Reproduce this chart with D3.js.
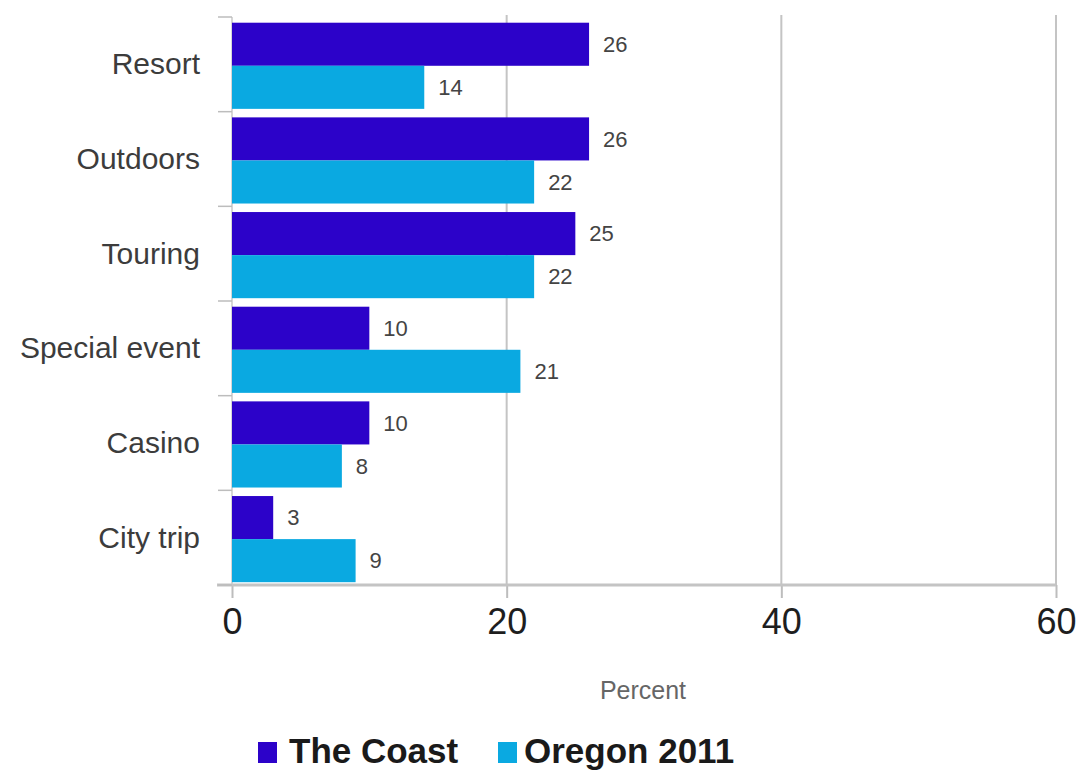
<!DOCTYPE html>
<html>
<head>
<meta charset="utf-8">
<script src="https://cdn.jsdelivr.net/npm/d3@7"></script>
<style>
  html, body { margin: 0; padding: 0; background: #fff; }
  svg { display: block; font-family: "Liberation Sans", Arial, sans-serif; }
</style>
</head>
<body>
<svg id="chart" width="1080" height="771"></svg>
<script>
// Trip types and the share of travellers (percent) for each series
const categories = ["Resort", "Outdoors", "Touring", "Special event", "Casino", "City trip"];
const seriesNames = ["The Coast", "Oregon 2011"];
const theCoast = [26, 26, 25, 10, 10, 3];
const oregon2011 = [14, 22, 22, 21, 8, 9];
const xTicks = [0, 20, 40, 60];
const xTitle = "Percent";

const colors = ["#2c02c9", "#0aa9e1"];
const seriesValues = [theCoast, oregon2011];

const rows = categories.map((c, i) => ({
  category: c,
  values: seriesNames.map((s, j) => ({ series: s, value: seriesValues[j][i] }))
}));

const svg = d3.select("#chart");

const plot = { left: 232, right: 1056, top: 17, bottom: 585 };

const x = d3.scaleLinear().domain([0, 60]).range([plot.left, plot.right]);
const y = d3.scaleBand()
  .domain(categories)
  .range([plot.top, plot.bottom])
  .paddingInner(0.09)
  .paddingOuter(0.045)
  .align(0.67);
const ySub = d3.scaleBand().domain(seriesNames).range([0, y.bandwidth()]);
const color = d3.scaleOrdinal().domain(seriesNames).range(colors);

// Vertical gridlines
svg.append("g")
  .selectAll("line")
  .data(xTicks.filter(t => t > 0))
  .join("line")
  .attr("x1", d => x(d)).attr("x2", d => x(d))
  .attr("y1", 15).attr("y2", plot.bottom)
  .attr("stroke", "#c4c4c4")
  .attr("stroke-width", 2);

// Bottom axis
const xAxis = svg.append("g")
  .attr("transform", `translate(0,${plot.bottom})`)
  .call(d3.axisBottom(x).tickValues(xTicks).tickSize(13).tickPadding(10).tickSizeOuter(0));
xAxis.select(".domain").remove();
xAxis.selectAll(".tick line").attr("stroke", "#bdbdbd").attr("stroke-width", 2);
xAxis.selectAll(".tick text")
  .attr("fill", "#1e1e1e")
  .attr("font-size", 36)
  .attr("font-family", "'Liberation Sans', Arial, sans-serif");
svg.append("line")
  .attr("x1", 217).attr("x2", plot.right)
  .attr("y1", plot.bottom).attr("y2", plot.bottom)
  .attr("stroke", "#c4c4c4")
  .attr("stroke-width", 3);

// Left axis with ticks at category boundaries
const yAxisG = svg.append("g");
yAxisG.append("line")
  .attr("x1", plot.left).attr("x2", plot.left)
  .attr("y1", plot.top).attr("y2", plot.bottom)
  .attr("stroke", "#c8c8c8").attr("stroke-width", 1.5);
const step = y.step();
const boundaries = d3.range(categories.length + 1).map(i => plot.top + i * step);
yAxisG.selectAll("line.bt")
  .data(boundaries)
  .join("line")
  .attr("class", "bt")
  .attr("x1", 218).attr("x2", plot.left)
  .attr("y1", d => d).attr("y2", d => d)
  .attr("stroke", "#bdbdbd").attr("stroke-width", 1.5);

// Category labels
svg.append("g")
  .selectAll("text")
  .data(categories)
  .join("text")
  .attr("x", 200)
  .attr("y", d => y(d) + y.bandwidth() / 2 - 2)
  .attr("dy", "0.35em")
  .attr("text-anchor", "end")
  .attr("font-size", 30)
  .attr("fill", "#3c3c3c")
  .text(d => d);

// Bars
const groups = svg.append("g")
  .selectAll("g")
  .data(rows)
  .join("g")
  .attr("transform", d => `translate(0,${y(d.category)})`);

groups.selectAll("rect")
  .data(d => d.values)
  .join("rect")
  .attr("x", x(0))
  .attr("y", d => ySub(d.series))
  .attr("width", d => x(d.value) - x(0))
  .attr("height", ySub.bandwidth())
  .attr("fill", d => color(d.series));

// Value labels
groups.selectAll("text")
  .data(d => d.values)
  .join("text")
  .attr("x", d => x(d.value) + 14)
  .attr("y", d => ySub(d.series) + ySub.bandwidth() / 2)
  .attr("dy", "0.35em")
  .attr("font-size", 22)
  .attr("fill", "#444")
  .text(d => d3.format("d")(d.value));

// Axis title
svg.append("text")
  .attr("x", 643)
  .attr("y", 699)
  .attr("text-anchor", "middle")
  .attr("font-size", 25)
  .attr("fill", "#666")
  .text(xTitle);

// Legend
const legendPos = [{ box: 258, text: 289 }, { box: 498, text: 524 }];
const legend = svg.append("g")
  .selectAll("g")
  .data(seriesNames)
  .join("g");
legend.append("rect")
  .attr("x", (d, i) => legendPos[i].box)
  .attr("y", 742)
  .attr("width", 19)
  .attr("height", 21)
  .attr("fill", d => color(d));
legend.append("text")
  .attr("x", (d, i) => legendPos[i].text)
  .attr("y", 763)
  .attr("font-size", 35)
  .attr("font-weight", "bold")
  .attr("fill", "#1a1a1a")
  .text(d => d);
</script>
</body>
</html>
